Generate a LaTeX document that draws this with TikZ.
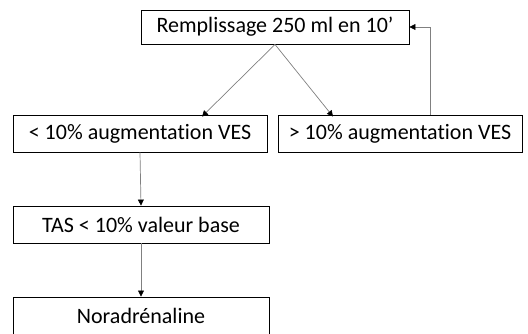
\documentclass[tikz,border=0pt]{standalone}
\usepackage{fontspec}
\setmainfont[Ligatures=NoCommon]{Carlito}
\usetikzlibrary{arrows.meta}
\begin{document}
\begin{tikzpicture}[x=1pt,y=-1pt,
  box/.style={draw=black,line width=0.9pt,fill=white,inner sep=0pt,font=\fontsize{22}{26}\selectfont,anchor=center},
  conn/.style={draw=black!50,line width=0.7pt,-{Triangle[length=6pt,width=6pt,fill=black,color=black]}}]
\useasboundingbox (0,0) rectangle (528,333);
\clip (0,0) rectangle (528,333);
\node[box,minimum width=268pt,minimum height=34pt] (top) at (275,27) {Remplissage 250 ml en 10’};
\node[box,minimum width=254pt,minimum height=37pt] (lm) at (140,133.5) {< 10\% augmentation VES};
\node[box,minimum width=244pt,minimum height=37pt] (rm) at (400,133.5) {> 10\% augmentation VES};
\node[box,minimum width=256pt,minimum height=37pt] (tas) at (141,224.5) {TAS < 10\% valeur base};
\node[box,minimum width=256pt,minimum height=37pt] (nor) at (141,315.5) {Noradrénaline};
\draw[conn] (top.south) -- ([xshift=62pt,yshift=-2pt]lm.north);
\draw[conn] (top.south) -- ([xshift=-67pt,yshift=-2pt]rm.north);
\draw[conn] ([xshift=30pt]rm.north) |- (top.east);
\draw[conn] (lm.south) -- (tas.north);
\draw[conn] (tas.south) -- (nor.north);
\end{tikzpicture}
\end{document}
